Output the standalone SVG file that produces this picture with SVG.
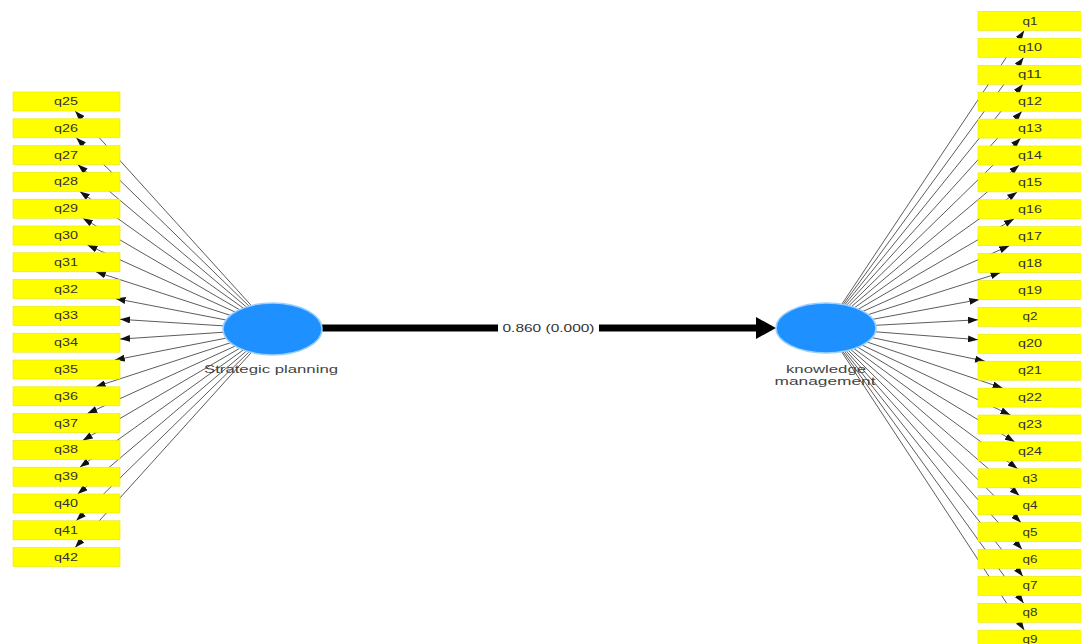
<svg xmlns="http://www.w3.org/2000/svg" width="1081" height="644" viewBox="0 0 1081 644">
<style>
.ind rect{fill:#ffff00;stroke:#e8e800;stroke-width:0.6}
.ind text{font-family:"Liberation Sans",Arial,sans-serif;font-size:11px;fill:#333;text-anchor:middle}
.lv ellipse{fill:#1e90ff;stroke:#9ccfff;stroke-width:1.5}
.lv text{font-family:"Liberation Sans",Arial,sans-serif;font-size:11px;fill:#444;text-anchor:middle}
.ld line{stroke:#4a4a4a;stroke-width:0.9;marker-end:url(#ah)}
.path{stroke:#000;stroke-width:7;marker-end:url(#big)}
.plabel{font-family:"Liberation Sans",Arial,sans-serif;font-size:11px;fill:#333;text-anchor:middle}
</style>
<defs>
<marker id="ah" markerUnits="userSpaceOnUse" markerWidth="10" markerHeight="7" refX="10" refY="3.5" orient="auto"><path d="M0,0 L10,3.5 L0,7 z" fill="#111"/></marker>
<marker id="big" markerUnits="userSpaceOnUse" markerWidth="20" markerHeight="22" refX="4" refY="11" orient="auto"><path d="M0,0 L20,11 L0,22 z" fill="#000"/></marker>
</defs>
<rect width="1081" height="644" fill="#fff"/>
<g id="connectors">
<g class="ld">
<line x1="272.5" y1="329" x2="75.1" y2="111.0"/>
<line x1="272.5" y1="329" x2="76.25" y2="137.8"/>
<line x1="272.5" y1="329" x2="77.75" y2="164.6"/>
<line x1="272.5" y1="329" x2="79.8" y2="191.4"/>
<line x1="272.5" y1="329" x2="82.8" y2="218.2"/>
<line x1="272.5" y1="329" x2="87.4" y2="245.0"/>
<line x1="272.5" y1="329" x2="95.8" y2="271.8"/>
<line x1="272.5" y1="329" x2="115.5" y2="298.6"/>
<line x1="272.5" y1="329" x2="120" y2="319.3"/>
<line x1="272.5" y1="329" x2="120" y2="339.1"/>
<line x1="272.5" y1="329" x2="114.8" y2="360.0"/>
<line x1="272.5" y1="329" x2="95.6" y2="386.8"/>
<line x1="272.5" y1="329" x2="87.3" y2="413.6"/>
<line x1="272.5" y1="329" x2="82.7" y2="440.4"/>
<line x1="272.5" y1="329" x2="79.75" y2="467.2"/>
<line x1="272.5" y1="329" x2="77.7" y2="494.0"/>
<line x1="272.5" y1="329" x2="76.2" y2="520.8"/>
<line x1="272.5" y1="329" x2="75.1" y2="547.6"/>
<line x1="826" y1="328" x2="1024.2" y2="30.5"/>
<line x1="826" y1="328" x2="1023.6" y2="57.4"/>
<line x1="826" y1="328" x2="1022.8" y2="84.3"/>
<line x1="826" y1="328" x2="1021.9" y2="111.2"/>
<line x1="826" y1="328" x2="1020.8" y2="138.1"/>
<line x1="826" y1="328" x2="1019.2" y2="165.0"/>
<line x1="826" y1="328" x2="1017.2" y2="191.9"/>
<line x1="826" y1="328" x2="1014.1" y2="218.8"/>
<line x1="826" y1="328" x2="1009.3" y2="245.7"/>
<line x1="826" y1="328" x2="1000.6" y2="272.6"/>
<line x1="826" y1="328" x2="979.4" y2="299.5"/>
<line x1="826" y1="328" x2="978" y2="319.75"/>
<line x1="826" y1="328" x2="978" y2="339.7"/>
<line x1="826" y1="328" x2="985.0" y2="361.2"/>
<line x1="826" y1="328" x2="1002.6" y2="388.1"/>
<line x1="826" y1="328" x2="1010.4" y2="415.0"/>
<line x1="826" y1="328" x2="1014.8" y2="441.9"/>
<line x1="826" y1="328" x2="1017.6" y2="468.8"/>
<line x1="826" y1="328" x2="1019.5" y2="495.7"/>
<line x1="826" y1="328" x2="1021.0" y2="522.6"/>
<line x1="826" y1="328" x2="1022.1" y2="549.5"/>
<line x1="826" y1="328" x2="1023.0" y2="576.4"/>
<line x1="826" y1="328" x2="1023.7" y2="603.3"/>
<line x1="826" y1="328" x2="1024.3" y2="630.2"/>
</g>
<line class="path" x1="322" y1="328" x2="760" y2="328"/>
<rect x="498" y="320" width="101" height="16" fill="#fff"/>
<text class="plabel" x="548.5" y="332" textLength="92" lengthAdjust="spacingAndGlyphs">0.860 (0.000)</text>
</g>
<g class="ind">
<g id="q25"><rect x="13" y="92" width="107" height="19"/><text x="66" y="105" textLength="24" lengthAdjust="spacingAndGlyphs">q25</text></g>
<g id="q26"><rect x="13" y="118.8" width="107" height="19"/><text x="66" y="131.8" textLength="24" lengthAdjust="spacingAndGlyphs">q26</text></g>
<g id="q27"><rect x="13" y="145.6" width="107" height="19"/><text x="66" y="158.6" textLength="24" lengthAdjust="spacingAndGlyphs">q27</text></g>
<g id="q28"><rect x="13" y="172.4" width="107" height="19"/><text x="66" y="185.4" textLength="24" lengthAdjust="spacingAndGlyphs">q28</text></g>
<g id="q29"><rect x="13" y="199.2" width="107" height="19"/><text x="66" y="212.2" textLength="24" lengthAdjust="spacingAndGlyphs">q29</text></g>
<g id="q30"><rect x="13" y="226" width="107" height="19"/><text x="66" y="239" textLength="24" lengthAdjust="spacingAndGlyphs">q30</text></g>
<g id="q31"><rect x="13" y="252.8" width="107" height="19"/><text x="66" y="265.8" textLength="24" lengthAdjust="spacingAndGlyphs">q31</text></g>
<g id="q32"><rect x="13" y="279.6" width="107" height="19"/><text x="66" y="292.6" textLength="24" lengthAdjust="spacingAndGlyphs">q32</text></g>
<g id="q33"><rect x="13" y="306.4" width="107" height="19"/><text x="66" y="319.4" textLength="24" lengthAdjust="spacingAndGlyphs">q33</text></g>
<g id="q34"><rect x="13" y="333.2" width="107" height="19"/><text x="66" y="346.2" textLength="24" lengthAdjust="spacingAndGlyphs">q34</text></g>
<g id="q35"><rect x="13" y="360" width="107" height="19"/><text x="66" y="373" textLength="24" lengthAdjust="spacingAndGlyphs">q35</text></g>
<g id="q36"><rect x="13" y="386.8" width="107" height="19"/><text x="66" y="399.8" textLength="24" lengthAdjust="spacingAndGlyphs">q36</text></g>
<g id="q37"><rect x="13" y="413.6" width="107" height="19"/><text x="66" y="426.6" textLength="24" lengthAdjust="spacingAndGlyphs">q37</text></g>
<g id="q38"><rect x="13" y="440.4" width="107" height="19"/><text x="66" y="453.4" textLength="24" lengthAdjust="spacingAndGlyphs">q38</text></g>
<g id="q39"><rect x="13" y="467.2" width="107" height="19"/><text x="66" y="480.2" textLength="24" lengthAdjust="spacingAndGlyphs">q39</text></g>
<g id="q40"><rect x="13" y="494" width="107" height="19"/><text x="66" y="507" textLength="24" lengthAdjust="spacingAndGlyphs">q40</text></g>
<g id="q41"><rect x="13" y="520.8" width="107" height="19"/><text x="66" y="533.8" textLength="24" lengthAdjust="spacingAndGlyphs">q41</text></g>
<g id="q42"><rect x="13" y="547.6" width="107" height="19"/><text x="66" y="560.6" textLength="24" lengthAdjust="spacingAndGlyphs">q42</text></g>
<g id="q1"><rect x="978" y="11.5" width="105" height="19"/><text x="1030" y="24.5" textLength="15" lengthAdjust="spacingAndGlyphs">q1</text></g>
<g id="q10"><rect x="978" y="38.4" width="105" height="19"/><text x="1030" y="51.4" textLength="24" lengthAdjust="spacingAndGlyphs">q10</text></g>
<g id="q11"><rect x="978" y="65.3" width="105" height="19"/><text x="1030" y="78.3" textLength="24" lengthAdjust="spacingAndGlyphs">q11</text></g>
<g id="q12"><rect x="978" y="92.2" width="105" height="19"/><text x="1030" y="105.2" textLength="24" lengthAdjust="spacingAndGlyphs">q12</text></g>
<g id="q13"><rect x="978" y="119.1" width="105" height="19"/><text x="1030" y="132.1" textLength="24" lengthAdjust="spacingAndGlyphs">q13</text></g>
<g id="q14"><rect x="978" y="146" width="105" height="19"/><text x="1030" y="159" textLength="24" lengthAdjust="spacingAndGlyphs">q14</text></g>
<g id="q15"><rect x="978" y="172.9" width="105" height="19"/><text x="1030" y="185.9" textLength="24" lengthAdjust="spacingAndGlyphs">q15</text></g>
<g id="q16"><rect x="978" y="199.8" width="105" height="19"/><text x="1030" y="212.8" textLength="24" lengthAdjust="spacingAndGlyphs">q16</text></g>
<g id="q17"><rect x="978" y="226.7" width="105" height="19"/><text x="1030" y="239.7" textLength="24" lengthAdjust="spacingAndGlyphs">q17</text></g>
<g id="q18"><rect x="978" y="253.6" width="105" height="19"/><text x="1030" y="266.6" textLength="24" lengthAdjust="spacingAndGlyphs">q18</text></g>
<g id="q19"><rect x="978" y="280.5" width="105" height="19"/><text x="1030" y="293.5" textLength="24" lengthAdjust="spacingAndGlyphs">q19</text></g>
<g id="q2"><rect x="978" y="307.4" width="105" height="19"/><text x="1030" y="320.4" textLength="15" lengthAdjust="spacingAndGlyphs">q2</text></g>
<g id="q20"><rect x="978" y="334.3" width="105" height="19"/><text x="1030" y="347.3" textLength="24" lengthAdjust="spacingAndGlyphs">q20</text></g>
<g id="q21"><rect x="978" y="361.2" width="105" height="19"/><text x="1030" y="374.2" textLength="24" lengthAdjust="spacingAndGlyphs">q21</text></g>
<g id="q22"><rect x="978" y="388.1" width="105" height="19"/><text x="1030" y="401.1" textLength="24" lengthAdjust="spacingAndGlyphs">q22</text></g>
<g id="q23"><rect x="978" y="415" width="105" height="19"/><text x="1030" y="428" textLength="24" lengthAdjust="spacingAndGlyphs">q23</text></g>
<g id="q24"><rect x="978" y="441.9" width="105" height="19"/><text x="1030" y="454.9" textLength="24" lengthAdjust="spacingAndGlyphs">q24</text></g>
<g id="q3"><rect x="978" y="468.8" width="105" height="19"/><text x="1030" y="481.8" textLength="15" lengthAdjust="spacingAndGlyphs">q3</text></g>
<g id="q4"><rect x="978" y="495.7" width="105" height="19"/><text x="1030" y="508.7" textLength="15" lengthAdjust="spacingAndGlyphs">q4</text></g>
<g id="q5"><rect x="978" y="522.6" width="105" height="19"/><text x="1030" y="535.6" textLength="15" lengthAdjust="spacingAndGlyphs">q5</text></g>
<g id="q6"><rect x="978" y="549.5" width="105" height="19"/><text x="1030" y="562.5" textLength="15" lengthAdjust="spacingAndGlyphs">q6</text></g>
<g id="q7"><rect x="978" y="576.4" width="105" height="19"/><text x="1030" y="589.4" textLength="15" lengthAdjust="spacingAndGlyphs">q7</text></g>
<g id="q8"><rect x="978" y="603.3" width="105" height="19"/><text x="1030" y="616.3" textLength="15" lengthAdjust="spacingAndGlyphs">q8</text></g>
<g id="q9"><rect x="978" y="630.2" width="105" height="19"/><text x="1030" y="643.2" textLength="15" lengthAdjust="spacingAndGlyphs">q9</text></g>
</g>
<g class="lv">
<g id="strategic-planning"><ellipse cx="272.5" cy="329" rx="49.5" ry="26"/><text x="271" y="373" textLength="134" lengthAdjust="spacingAndGlyphs">Strategic planning</text></g>
<g id="knowledge-management"><ellipse cx="826" cy="328" rx="50" ry="25"/><text x="826" y="373" textLength="80" lengthAdjust="spacingAndGlyphs">knowledge</text><text x="825" y="385" textLength="101" lengthAdjust="spacingAndGlyphs">management</text></g>
</g>
</svg>
